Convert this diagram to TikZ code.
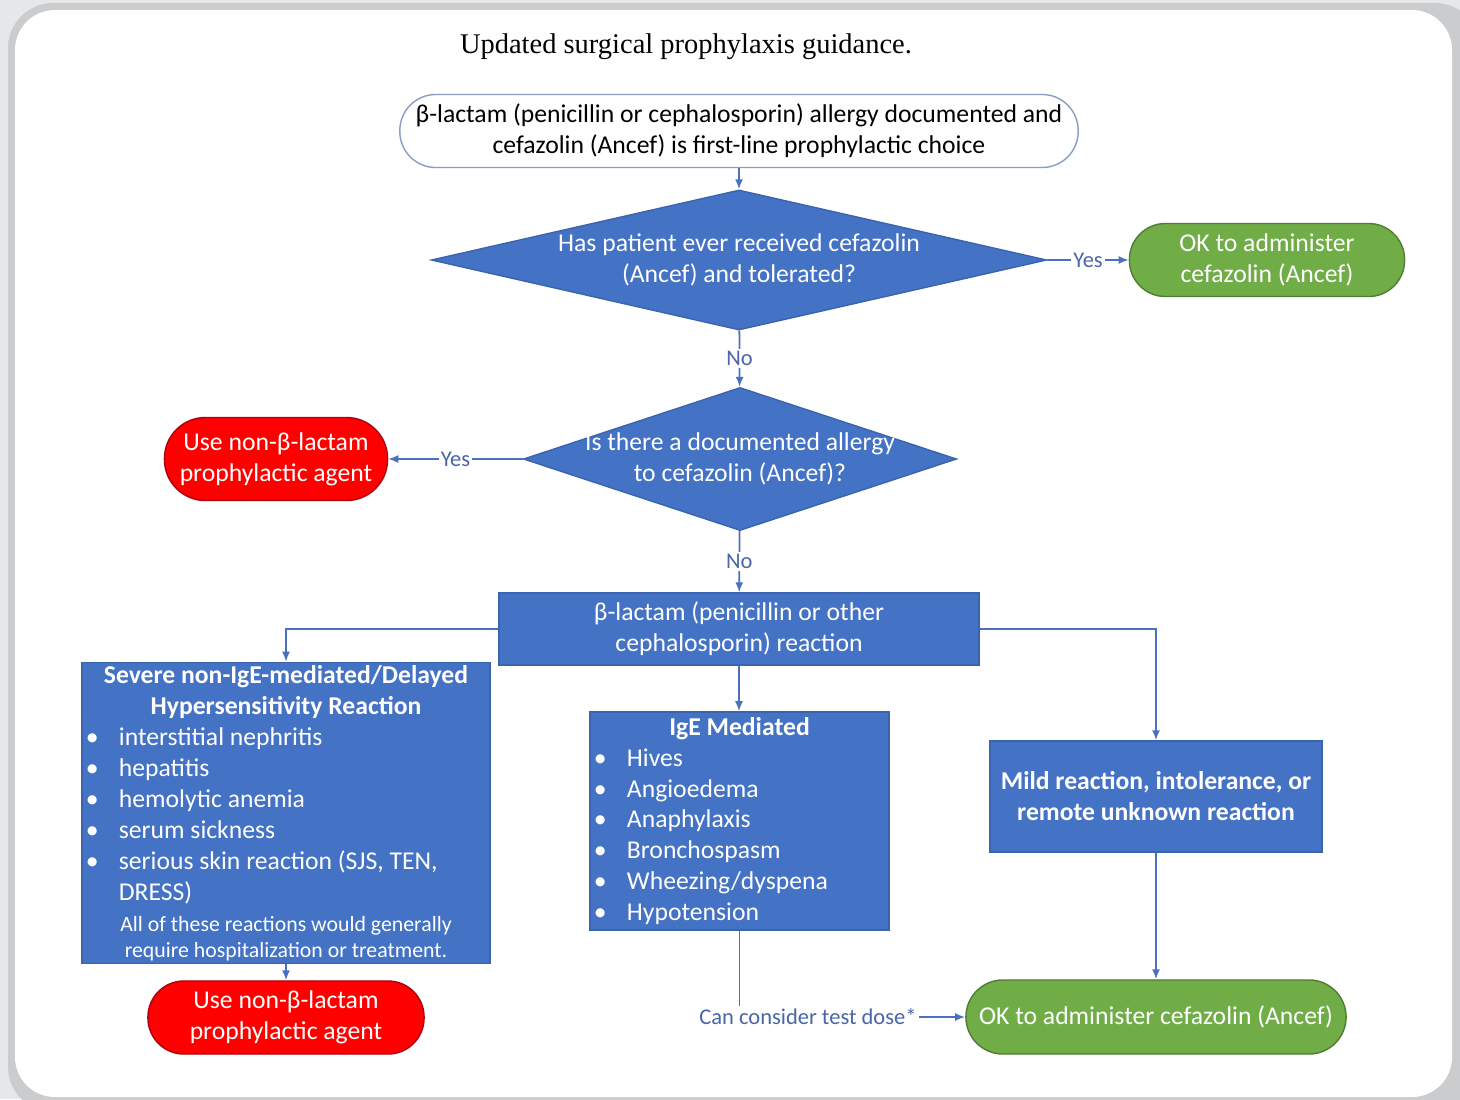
\documentclass[tikz,border=0pt]{standalone}
\usepackage{fontspec}
\setmainfont{Carlito}
\newfontfamily\titlefont{Liberation Serif}
\usetikzlibrary{shapes.geometric,arrows.meta}

\definecolor{qblue}{HTML}{4472C4}
\definecolor{qline}{HTML}{3A64B0}
\definecolor{lineblue}{HTML}{4A70C0}
\definecolor{lblblue}{HTML}{4A66A8}
\definecolor{startline}{HTML}{8A9CC4}
\definecolor{okgreen}{HTML}{70AD47}
\definecolor{okline}{HTML}{4F7D35}
\definecolor{stopred}{HTML}{FF0000}
\definecolor{stopline}{HTML}{B00010}
\definecolor{bgout}{HTML}{E6E7E9}
\definecolor{bgring}{HTML}{CACCCE}

% bullet line of fixed width
\newcommand{\bul}[2]{\makebox[#1][l]{\makebox[0.29cm][l]{\hspace{-0.04cm}\textbullet}#2}}

\begin{document}
\begin{tikzpicture}[x=0.01cm,y=-0.01cm,
    txt/.style={font=\fontsize{7.3}{8.8}\selectfont, align=center},
    startbox/.style={txt, draw=startline, fill=white, text=black, rounded corners=0.36cm, inner sep=0pt},
    quest/.style={diamond, fill=qblue, draw=qline, inner sep=0pt},
    qtext/.style={txt, text=white, inner sep=0pt},
    okbox/.style={txt, fill=okgreen, draw=okline, text=white, rounded corners=0.36cm, inner sep=0pt},
    stopbox/.style={txt, fill=stopred, draw=stopline, text=white, rounded corners=0.36cm, inner sep=0pt},
    infobox/.style={txt, fill=qblue, draw=qline, text=white, inner sep=0pt},
    flow/.style={draw=lineblue, line width=0.5pt, -{Latex[length=0.1cm,width=0.08cm]}},
    lbl/.style={font=\fontsize{6.4}{7.6}\selectfont, fill=white, text=lblblue, inner sep=0.6pt}]

    \useasboundingbox (0,0) rectangle (1460,1099);

    % Panel
    \fill[bgout] (0,0) rectangle (1460,1099);
    \fill[bgring, rounded corners=0.45cm] (8,3) rectangle (1480,1112);
    \fill[white, rounded corners=0.4cm] (15,10) rectangle (1452,1097);

    % Title
    \node[font=\titlefont\fontsize{8.1}{9.5}\selectfont] (title) at (686,47) {Updated surgical prophylaxis guidance.};

    %% Start
    \node[startbox, minimum width=6.78cm, minimum height=0.73cm] (start) at (739,131)
        {β-lactam (penicillin or cephalosporin) allergy documented and\\cefazolin (Ancef) is first-line prophylactic choice};

    %% Questions
    \node[quest, minimum width=6.15cm, minimum height=1.4cm,
        label={[qtext]center:Has patient ever received cefazolin\\(Ancef) and tolerated?}] (q1) at (739,260) {};
    \node[quest, minimum width=4.33cm, minimum height=1.43cm,
        label={[qtext]center:Is there a documented allergy\\to cefazolin (Ancef)?}] (q2) at (740,459) {};

    %% Outcomes
    \node[okbox, minimum width=2.75cm, minimum height=0.73cm] (ok1) at (1267,260) {OK to administer\\cefazolin (Ancef)};
    \node[stopbox, minimum width=2.23cm, minimum height=0.83cm, rounded corners=0.41cm] (stop1) at (276,459) {Use non-β-lactam\\prophylactic agent};

    %% Reaction boxes
    \node[infobox, minimum width=4.8cm, minimum height=0.72cm] (react) at (739,629)
        {β-lactam (penicillin or other\\cephalosporin) reaction};
    \node[infobox, minimum width=4.08cm, minimum height=3.01cm] (severe) at (286,813)
        {\textbf{Severe non-IgE-mediated/Delayed}\\\textbf{Hypersensitivity Reaction}\\
        \bul{3.92cm}{interstitial nephritis}\\\bul{3.92cm}{hepatitis}\\
        \bul{3.92cm}{hemolytic anemia}\\\bul{3.92cm}{serum sickness}\\
        \bul{3.92cm}{serious skin reaction (SJS, TEN,}\\\makebox[3.92cm][l]{\hspace{0.29cm}DRESS)}\\
        {\fontsize{6.2}{7.4}\selectfont All of these reactions would generally}\\[-1.4pt]
        {\fontsize{6.2}{7.4}\selectfont require hospitalization or treatment.}};
    \node[infobox, minimum width=2.99cm, minimum height=2.18cm] (ige) at (739.5,821)
        {\textbf{IgE Mediated}\\\bul{2.83cm}{Hives}\\\bul{2.83cm}{Angioedema}\\
        \bul{2.83cm}{Anaphylaxis}\\\bul{2.83cm}{Bronchospasm}\\
        \bul{2.83cm}{Wheezing/dyspena}\\\bul{2.83cm}{Hypotension}};
    \node[infobox, minimum width=3.32cm, minimum height=1.11cm, font=\fontsize{7.3}{8.8}\selectfont\bfseries] (mild) at (1156,796.5)
        {Mild reaction, intolerance, or\\remote unknown reaction};

    %% Bottom outcomes
    \node[stopbox, minimum width=2.76cm, minimum height=0.73cm] (stop2) at (286,1017.5) {Use non-β-lactam\\prophylactic agent};
    \node[okbox, minimum width=3.8cm, minimum height=0.74cm, rounded corners=0.37cm] (ok2) at (1156,1017) {OK to administer cefazolin (Ancef)};
    \node[lbl] (dose) at (808,1017) {Can consider test dose*};

    %% Connectors
    \draw[flow] (start) -- (q1);
    \draw[flow] (q1) -- node[lbl] {Yes} (ok1);
    \draw[flow] (q1) -- node[lbl] {No} (q2);
    \draw[flow] (q2) -- node[lbl] {Yes} (stop1);
    \draw[flow] (q2) -- node[lbl] {No} (react);
    \draw[flow] (react.west) -| (severe.north);
    \draw[flow] (react.south) -- (react.south |- ige.north);
    \draw[flow] (react.east) -| (mild.north);
    \draw[flow] (severe) -- (stop2);
    \draw[flow] (mild) -- (ok2);
    \draw[draw=lineblue, line width=0.5pt] (ige.south) -- (ige.south |- dose.north);
    \draw[flow] (dose) -- (ok2);
\end{tikzpicture}
\end{document}
